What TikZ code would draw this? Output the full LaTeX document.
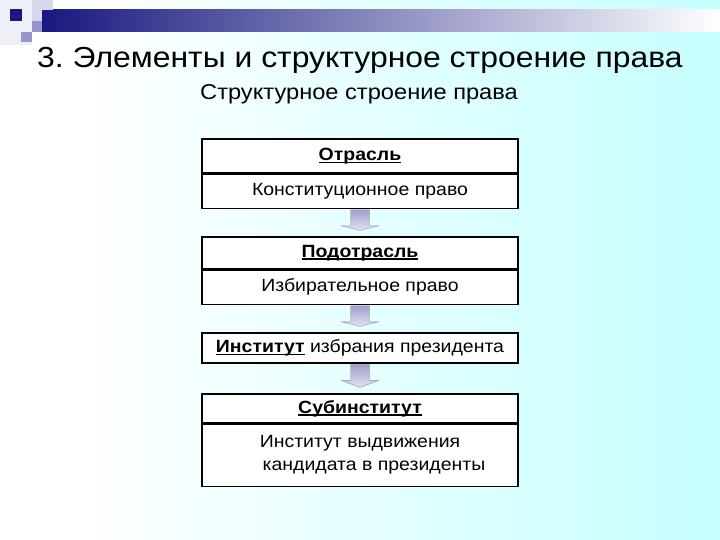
\documentclass[tikz,border=0pt]{standalone}
\usepackage{fontspec}
\setmainfont{Liberation Sans}[FakeStretch=1.1]
\usepackage{tikz}
\usetikzlibrary{positioning}
\frenchspacing

\definecolor{bgcyan}{RGB}{198,255,255}
\definecolor{barnavy}{RGB}{24,24,128}
\definecolor{barmid}{RGB}{168,168,196}
\definecolor{arrowtop}{RGB}{160,160,204}
\definecolor{arrowbot}{RGB}{226,226,242}
\definecolor{arrowline}{RGB}{140,140,165}
\definecolor{lavender}{RGB}{150,150,205}
\definecolor{palelav}{RGB}{214,214,236}

% bold heading with a tight underline
\newcommand\ulbold[1]{\setbox0\hbox{\textbf{#1}}\rlap{\rule[-2.5pt]{\wd0}{1.3pt}}\box0\relax}

\begin{document}
\begin{tikzpicture}
 [ x=1pt, y=-1pt
 , every node/.style={inner sep=0pt, font=\fontsize{17.7}{23}\selectfont}
 , head/.style={draw, fill=white, line width=1.2pt, minimum width=316pt, minimum height=34pt}
 , body/.style={head}
 , blockarrow/.style={draw=arrowline, top color=arrowtop, bottom color=arrowbot}
 ]
  \useasboundingbox (0,0) rectangle (720,540);
  % background and the bar on top
  \fill[white] (0,0) rectangle (80,540);
  \shade[left color=white, right color=bgcyan] (80,0) rectangle (720,540);
  \fill[palelav!40] (0,0) rectangle (32,45);
  \shade[left color=barnavy, middle color=barmid, right color=white] (42,10) rectangle (720,32);
  \fill[palelav] (32,0) rectangle (53,10);
  \fill[palelav] (32,10) rectangle (42,21);
  \fill[lavender] (32,21) rectangle (42,32);
  \fill[lavender] (21,32) rectangle (32,42);
  \fill[barnavy] (10,9) rectangle (22,21);

  \node[anchor=base west, font=\fontsize{29}{34}\selectfont] (title) at (37,68)
    {3. Элементы и структурное строение права};
  \node[anchor=base west, font=\fontsize{21.5}{26}\selectfont] (subtitle) at (200,100)
    {Структурное строение права};

  \node[head] (otr) at (360,156) {\ulbold{Отрасль}};
  \node[body, below=0pt of otr] (otrb) {Конституционное право};

  \node[head, minimum height=32pt] (podotr) at (360,253) {\ulbold{Подотрасль}};
  \node[body, below=0pt of podotr] (podotrb) {Избирательное право};

  \node[head, minimum height=30pt] (inst) at (360,348)
    {\ulbold{Институт} избрания президента};

  \node[head, minimum height=29pt] (sub) at (360,408.5) {\ulbold{Субинститут}};
  \node[body, below=0pt of sub, minimum height=62pt, align=center] (subb)
    {Институт выдвижения\\\hspace*{28pt}кандидата в президенты};

  \foreach \a/\b in {otrb/podotr, podotrb/inst, inst/sub}
    \draw[blockarrow] ([xshift=-9.5pt,yshift=-1pt]\a.south) -- ([xshift=9.5pt,yshift=-1pt]\a.south)
      -- ([xshift=9.5pt,yshift=-17pt]\a.south) -- ([xshift=18.5pt,yshift=-17pt]\a.south)
      -- ([yshift=6pt]\b.north) -- ([xshift=-18.5pt,yshift=-17pt]\a.south)
      -- ([xshift=-9.5pt,yshift=-17pt]\a.south) -- cycle;
\end{tikzpicture}
\end{document}
